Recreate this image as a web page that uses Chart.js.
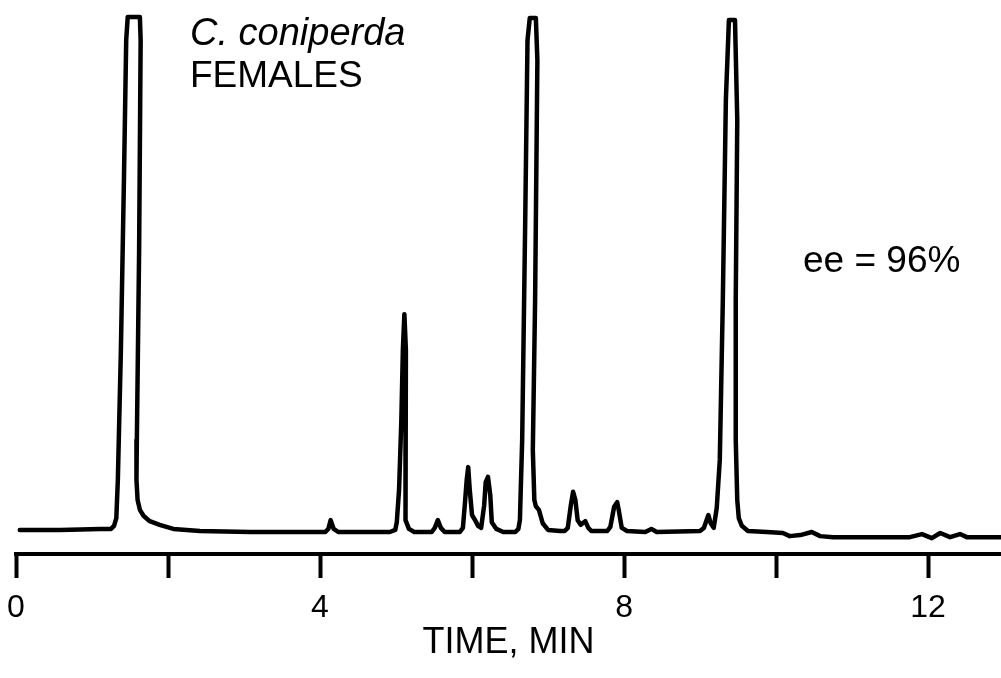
<!DOCTYPE html>
<html lang="en">
  <head>
    <meta charset="UTF-8" />
    <title>C. coniperda females - chromatogram</title>
    <script src="https://cdn.jsdelivr.net/npm/chart.js"></script>
    <style>
      body {
        margin: 0;
        background: #ffffff;
      }
      canvas {
        display: block;
      }
    </style>
  </head>
  <body>
    <canvas id="gcChart" width="1001" height="678"></canvas>

    <script>
      // retention time (min) and detector signal (% of full scale)
      const times = [
        0.05, 0.58, 1.11, 1.25, 1.29, 1.32, 1.34, 1.38, 1.42, 1.45, 1.47, 1.63, 1.64, 1.62, 1.59, 1.585, 1.6, 1.63, 1.68, 1.76, 1.89, 2.07, 2.42, 3.08,
        3.74, 4.07, 4.11, 4.14, 4.18, 4.24, 4.92, 4.99, 5.01, 5.04, 5.07, 5.09, 5.11, 5.13, 5.12, 5.13, 5.17, 5.24,
        5.47, 5.51, 5.55, 5.59, 5.64, 5.84, 5.88, 5.91, 5.93, 5.95, 5.97, 6.0, 6.04, 6.08, 6.12, 6.16, 6.18, 6.21, 6.24, 6.26, 6.32, 6.41,
        6.57, 6.61, 6.63, 6.66, 6.7, 6.73, 6.76, 6.84, 6.86, 6.83, 6.8, 6.82, 6.84, 6.88, 6.93, 7.0, 7.16,
        7.22, 7.26, 7.3, 7.33, 7.36, 7.39, 7.43, 7.49, 7.53, 7.57, 7.78, 7.82, 7.87, 7.91, 7.93, 7.97, 8.04, 8.28, 8.36, 8.43,
        9.0, 9.05, 9.11, 9.14, 9.18, 9.22, 9.26, 9.3, 9.34, 9.38, 9.46, 9.49, 9.47, 9.47, 9.49, 9.51, 9.55, 9.63, 9.88,
        10.09, 10.18, 10.32, 10.47, 10.58, 10.75, 11.76, 11.92, 12.05, 12.16, 12.29, 12.42, 12.51, 12.96
      ];
      const signal = [
        0.4, 0.4, 0.6, 0.6, 1.2, 2.7, 10.1, 35.3, 68.3, 95.5, 100, 100, 95.5, 54.8, 17.9, 10.1, 6.2, 4.3, 3.1, 2.1, 1.4, 0.6, 0.2, 0,
        0, 0, 0.6, 2.3, 0.6, 0, 0, 0.4, 1.9, 8.2, 21.7, 35.3, 42.3, 35.3, 10.1, 2.3, 0.6, 0,
        0, 0.8, 2.3, 0.8, 0, 0, 0.8, 6.2, 10.1, 12.6, 8.2, 3.3, 2.3, 1.2, 0.8, 5.2, 9.7, 10.7, 7.2, 1.9, 0.6, 0,
        0, 0.6, 2.3, 17.9, 60.6, 95.5, 99.8, 99.8, 91.6, 45.0, 15.9, 6.2, 5.0, 4.3, 1.7, 0.4, 0.2,
        0.2, 0.8, 5.2, 7.8, 6.2, 2.3, 1.4, 2.1, 0.8, 0.2, 0.2, 1.0, 4.9, 5.8, 4.3, 0.8, 0.2, 0, 0.6, 0,
        0.2, 0.8, 3.3, 1.7, 0.8, 4.7, 14.0, 45.0, 83.9, 99.4, 99.4, 80.0, 45.0, 17.9, 6.2, 2.7, 1.2, 0.2, 0,
        -0.2, -0.8, -0.6, 0, -0.8, -1.0, -1.0, -0.4, -1.2, -0.2, -1.0, -0.4, -1.0, -1.0
      ];
      const tickValues = [0, 2, 4, 6, 8, 10, 12];
      const labeledTicks = [0, 4, 8, 12];

      const FONT = '"Liberation Sans", Arial, sans-serif';

      const notes = {
        id: 'notes',
        afterDraw(chart) {
          const ctx = chart.ctx;
          ctx.save();
          ctx.fillStyle = '#000';
          ctx.textBaseline = 'alphabetic';
          ctx.textAlign = 'left';
          ctx.font = 'italic 38px ' + FONT;
          ctx.fillText('C. coniperda', 190, 45);
          ctx.font = '37px ' + FONT;
          ctx.fillText('FEMALES', 190, 87);
          ctx.fillText('ee = 96%', 803, 272);
          ctx.restore();
        }
      };

      const ctx = document.getElementById('gcChart').getContext('2d');
      new Chart(ctx, {
        type: 'line',
        data: {
          datasets: [
            {
              data: times.map((t, i) => ({ x: t, y: signal[i] })),
              borderColor: '#000',
              borderWidth: 4.5,
              pointRadius: 0,
              tension: 0,
              borderJoinStyle: 'round',
              borderCapStyle: 'round',
              clip: false
            }
          ]
        },
        options: {
          responsive: false,
          animation: false,
          devicePixelRatio: 1,
          events: [],
          layout: { padding: { left: 16, right: 0, top: 17, bottom: 0 } },
          plugins: {
            legend: { display: false },
            tooltip: { enabled: false }
          },
          scales: {
            x: {
              type: 'linear',
              min: 0,
              max: 12.96,
              afterBuildTicks: (scale) => {
                scale.ticks = tickValues.map((v) => ({ value: v }));
              },
              afterFit: (scale) => {
                scale.height = 124;
                scale.paddingLeft = 0;
                scale.paddingRight = 0;
              },
              border: { display: true, color: '#000', width: 4 },
              grid: {
                drawOnChartArea: false,
                drawTicks: true,
                tickLength: 24,
                tickWidth: 4,
                tickColor: '#000'
              },
              ticks: {
                color: '#000',
                padding: 11,
                maxRotation: 0,
                autoSkip: false,
                font: { family: FONT, size: 32 },
                callback: (v) => (labeledTicks.includes(v) ? String(v) : '')
              },
              title: {
                display: true,
                text: 'TIME, MIN',
                color: '#000',
                font: { family: FONT, size: 36 },
                padding: { top: 0, bottom: 13 }
              }
            },
            y: {
              display: false,
              min: -4.27,
              max: 100
            }
          }
        },
        plugins: [notes]
      });
    </script>
  </body>
</html>
